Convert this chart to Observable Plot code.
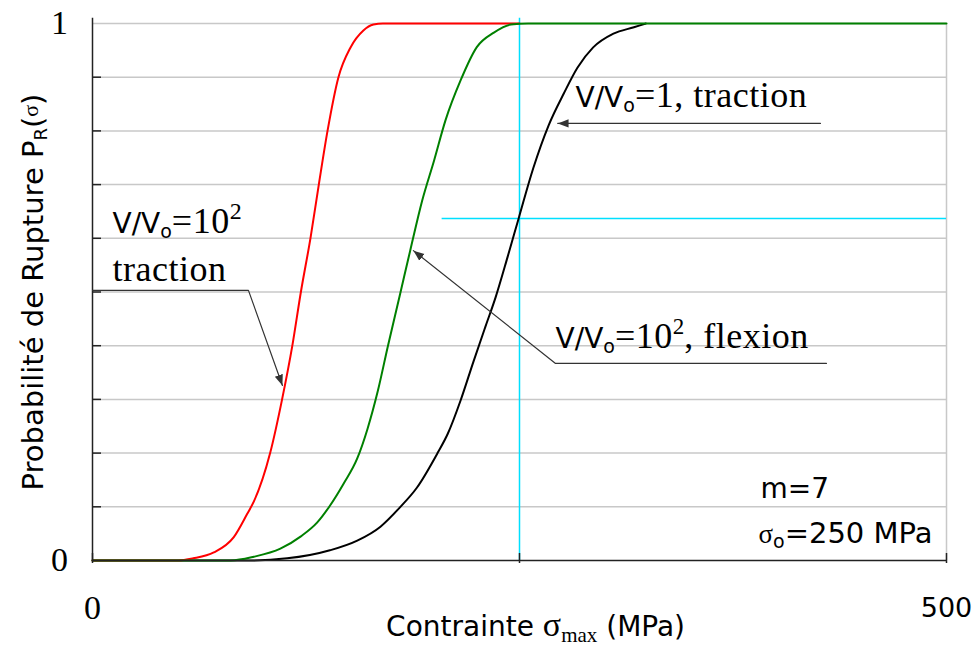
<!DOCTYPE html>
<html><head><meta charset="utf-8">
<script src="https://cdn.jsdelivr.net/npm/d3@7"></script>
<script src="https://cdn.jsdelivr.net/npm/@observablehq/plot@0.6"></script>
<style>body{margin:0;background:#fff}</style>
</head><body><div id="chart"></div>
<script>
// ---- data ----
const redSigma   = [0, 50, 59, 71, 82.6, 90.6, 94.5, 104, 111, 117, 122, 127.6, 132.5, 137.6, 144, 151, 158.6, 164.5, 170, 250];
const redP       = [0, 0, 0.004, 0.015, 0.043, 0.087, 0.11, 0.20, 0.30, 0.40, 0.50, 0.60, 0.70, 0.80, 0.90, 0.955, 0.987, 0.998, 1, 1];
const greenSigma = [0, 81, 94.5, 110, 122, 131.6, 139, 147, 155, 161, 167, 173, 180, 186, 193, 200, 206.7, 215.5, 225, 235, 245, 255, 500];
const greenP     = [0, 0, 0.007, 0.022, 0.045, 0.071, 0.102, 0.143, 0.19, 0.245, 0.315, 0.40, 0.495, 0.577, 0.67, 0.745, 0.82, 0.894, 0.956, 0.983, 0.998, 1, 1];
const blackSigma = [0, 90, 114, 139, 155, 168.6, 180, 190, 202, 208, 215.5, 223, 230, 236, 243, 249.5, 258, 267, 276, 284, 293, 305, 317, 324];
const blackP     = [0, 0, 0.004, 0.019, 0.037, 0.063, 0.099, 0.136, 0.20, 0.236, 0.298, 0.37, 0.435, 0.49, 0.565, 0.637, 0.73, 0.81, 0.87, 0.918, 0.955, 0.981, 0.993, 1];

const gridY = [0.1, 0.2, 0.3, 0.4, 0.5, 0.6, 0.7, 0.8, 0.9, 1];
const yTicks = [0.1, 0.2, 0.3, 0.4, 0.5, 0.6, 0.7, 0.8, 0.9];
const xTicks = [0, 250, 500];
const yTickLabels = [{v: 0, t: "0"}, {v: 1, t: "1"}];
const xTickLabels = [{v: 0, t: "0", font: "serif"}, {v: 500, t: "500", font: "sans"}];

const cyanV = [{x: 250, y1: 0, y2: 1.01}];
const cyanH = [{y: 0.637, x1: 204.7, x2: 500}];

const redLeader = [{x: 0, y: 0.503}, {x: 91.3, y: 0.503}, {x: 111.2, y: 0.326}];
const blackLeader = [{x: 426.2, y: 0.814}, {x: 272.4, y: 0.814}];
const flexLeader = [{x: 429.7, y: 0.367}, {x: 271.1, y: 0.367}, {x: 187.9, y: 0.577}];

const annotations = [
  {x: 282.8, y: 0.8436, text: "V/Vo=1, traction"},
  {x: 271.1, y: 0.3948, text: "V/Vo=10², flexion"},
  {x: 11.7, y: 0.609, text: "V/Vo=10²"},
  {x: 11.7, y: 0.5214, text: "traction"}
];
const params = [
  {x: 391.1, y: 0.1155, text: "m=7"},
  {x: 389.9, y: 0.0317, text: "σo=250 MPa"}
];
const xLabel = "Contrainte σmax (MPa)";
const yLabel = "Probabilité de Rupture PR(σ)";

const SANS = "DejaVu Sans";
const SERIF = "Liberation Serif";
const LEAD = "#333";

const toRows = (s, p) => s.map((x, i) => ({sigma: x, p: p[i]}));

const chart = Plot.plot({
  width: 973, height: 651,
  marginLeft: 92, marginRight: 27, marginTop: 23, marginBottom: 91,
  x: {domain: [0, 500], axis: null},
  y: {domain: [0, 1], axis: null},
  marks: [
    Plot.ruleY(gridY, {stroke: "#c8c8c8", strokeWidth: 1.5}),
    Plot.ruleX([500], {y1: 0, y2: 1, stroke: "#c8c8c8", strokeWidth: 1.5}),
    Plot.ruleX(cyanV, {x: "x", y1: "y1", y2: "y2", stroke: "#00e0ff", strokeWidth: 1.5}),
    Plot.ruleY(cyanH, {y: "y", x1: "x1", x2: "x2", stroke: "#00e0ff", strokeWidth: 1.5}),
    Plot.line(toRows(blackSigma, blackP), {x: "sigma", y: "p", stroke: "#000", strokeWidth: 2, curve: "monotone-x"}),
    Plot.line(toRows(redSigma, redP), {x: "sigma", y: "p", stroke: "#ff0000", strokeWidth: 2, curve: "monotone-x"}),
    Plot.line(toRows(greenSigma, greenP), {x: "sigma", y: "p", stroke: "#008000", strokeWidth: 2, curve: "monotone-x"}),
    Plot.ruleX([0], {y1: 0, y2: 1.01, stroke: "#222", strokeWidth: 1.5}),
    Plot.ruleY([0], {x1: 0, x2: 500, stroke: "#222", strokeWidth: 1.5}),
    Plot.ruleY(yTicks, {x1: 0, x2: 0, insetRight: -9, stroke: "#222", strokeWidth: 1.5}),
    Plot.ruleX(xTicks, {y1: 0, y2: 0, insetTop: 3, insetBottom: 7, stroke: "#222", strokeWidth: 1.5}),
    // leaders with arrow heads
    Plot.line(redLeader, {x: "x", y: "y", stroke: LEAD, strokeWidth: 1.2, markerEnd: "arrow"}),
    Plot.line(blackLeader, {x: "x", y: "y", stroke: LEAD, strokeWidth: 1.2, markerEnd: "arrow"}),
    Plot.line(flexLeader, {x: "x", y: "y", stroke: LEAD, strokeWidth: 1.2, markerEnd: "arrow"}),
    // annotations
    Plot.text(annotations, {x: "x", y: "y", text: "text", textAnchor: "start", lineAnchor: "bottom", fontFamily: SERIF, fontSize: 36, fill: "#000"}),
    Plot.text(params, {x: "x", y: "y", text: "text", textAnchor: "start", lineAnchor: "bottom", fontFamily: SANS, fontSize: 28, fill: "#000"}),
    // tick labels
    Plot.text(yTickLabels, {x: 0, y: "v", text: "t", dx: -33, textAnchor: "middle", lineAnchor: "middle", fontFamily: SERIF, fontSize: 34, fill: "#000"}),
    Plot.text(xTickLabels.filter(d => d.font === "serif"), {x: "v", y: 0, text: "t", dy: 48, textAnchor: "middle", lineAnchor: "middle", fontFamily: SERIF, fontSize: 34, fill: "#000"}),
    Plot.text(xTickLabels.filter(d => d.font === "sans"), {x: "v", y: 0, text: "t", dy: 48, textAnchor: "middle", lineAnchor: "middle", fontFamily: SANS, fontSize: 27, fill: "#000"}),
    // axis labels
    Plot.text([xLabel], {x: 259.4, y: 0, text: d => d, dy: 75, textAnchor: "middle", lineAnchor: "bottom", fontFamily: SANS, fontSize: 28, fill: "#000"}),
    Plot.text([yLabel], {x: 0, y: 0.5, text: d => d, dx: -50, rotate: -90, textAnchor: "middle", lineAnchor: "bottom", fontFamily: SANS, fontSize: 29, fill: "#000"})
  ]
});
document.getElementById("chart").append(chart);

// ---- filled arrow heads ----
chart.querySelectorAll("marker").forEach(m => {
  m.setAttribute("viewBox", "-9 -4 10 8");
  m.setAttribute("markerWidth", 10);
  m.setAttribute("markerHeight", 8);
  m.setAttribute("fill", LEAD);
  m.setAttribute("stroke", "none");
  m.innerHTML = "";
  const p = document.createElementNS("http://www.w3.org/2000/svg", "path");
  p.setAttribute("d", "M-9,-3.5L0,0L-9,3.5Z");
  m.append(p);
});

// ---- rich text (sub/superscripts, mixed fonts) ----
const SERIF_LS = "0.5";
const vvo = [
  {t: "V/V", f: SANS, s: 28},
  {t: "o", f: SANS, s: 19, dy: 5},
  {t: "=", f: SERIF, s: 36, dy: -5, ls: SERIF_LS}
];
const richMap = {
  "V/Vo=1, traction": [...vvo, {t: "1, traction", f: SERIF, s: 36, ls: SERIF_LS}],
  "V/Vo=10², flexion": [...vvo, {t: "10", f: SERIF, s: 36, ls: SERIF_LS}, {t: "2", f: SERIF, s: 23, dy: -14}, {t: ", flexion", f: SERIF, s: 36, dy: 14, ls: SERIF_LS}],
  "V/Vo=10²": [...vvo, {t: "10", f: SERIF, s: 36, ls: SERIF_LS}, {t: "2", f: SERIF, s: 24, dy: -14}],
  "traction": [{t: "traction", f: SERIF, s: 36, ls: SERIF_LS}],
  "σo=250 MPa": [{t: "σ", f: SERIF, s: 27}, {t: "o", f: SANS, s: 19, dy: 5}, {t: "=250 MPa", f: SANS, s: 29, dy: -5}],
  "Contrainte σmax (MPa)": [{t: "Contrainte ", f: SANS, s: 28}, {t: "σ", f: SERIF, s: 34}, {t: "max", f: SERIF, s: 21, dy: 6}, {t: " (MPa)", f: SANS, s: 28, dy: -6}],
  "Probabilité de Rupture PR(σ)": [{t: "Probabilité de Rupture P", f: SANS, s: 29}, {t: "R", f: SANS, s: 18, dy: 4}, {t: "(", f: SANS, s: 29, dy: -4}, {t: "σ", f: SERIF, s: 22, dy: -5}, {t: ")", f: SANS, s: 29, dy: 5}]
};
const NS = "http://www.w3.org/2000/svg";
chart.querySelectorAll("text").forEach(el => {
  const parts = richMap[el.textContent];
  if (!parts) return;
  el.textContent = "";
  for (const p of parts) {
    const ts = document.createElementNS(NS, "tspan");
    ts.textContent = p.t;
    ts.setAttribute("font-family", p.f);
    ts.setAttribute("font-size", p.s);
    if (p.dy) ts.setAttribute("dy", p.dy);
    if (p.ls) ts.setAttribute("letter-spacing", p.ls);
    el.append(ts);
  }
});
</script>
</body></html>
